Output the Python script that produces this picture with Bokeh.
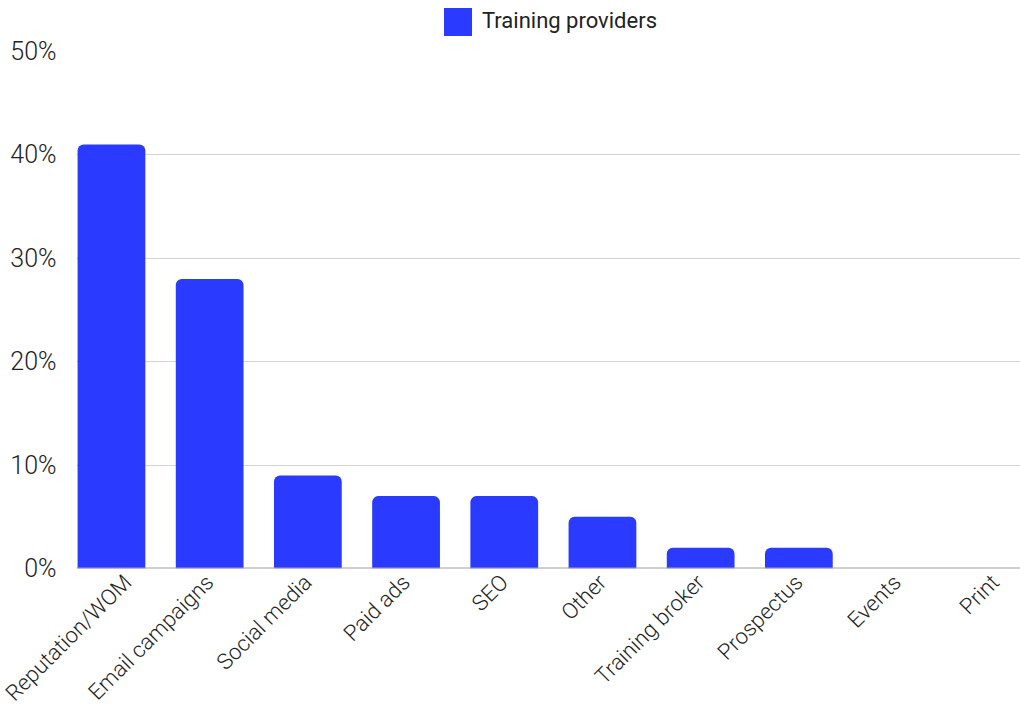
import math
from bokeh.plotting import figure
from bokeh.layouts import column
from bokeh.models import ColumnDataSource, FixedTicker, Span, Range1d, Div
from bokeh.embed import file_html
from bokeh.resources import INLINE

categories = ["Reputation/WOM", "Email campaigns", "Social media", "Paid ads", "SEO",
              "Other", "Training broker", "Prospectus", "Events", "Print"]
values = [41, 28, 9, 7, 7, 5, 2, 2, 0, 0]
y_ticks = [0, 10, 20, 30, 40, 50]
y_tick_labels = ["0%", "10%", "20%", "30%", "40%", "50%"]
series_name = "Training providers"

FONT = "Roboto Light, Roboto"
BAR = "#2a3bff"

idx = list(range(len(categories)))
src = ColumnDataSource(dict(x=idx, top=values))

legend_div = Div(
    width=1020, height=36,
    text=(
        '<div style="position:relative;width:1020px;height:36px;">'
        f'<div style="position:absolute;left:444px;top:8px;width:28px;height:28px;background:{BAR};"></div>'
        f'<div style="position:absolute;left:482px;top:7px;font-family:Roboto;font-weight:400;font-size:22px;'
        f'line-height:28px;color:#222222;white-space:nowrap;">{series_name}</div>'
        '</div>'
    ),
    margin=(0, 0, 0, 0),
)

p = figure(width=1020, height=682, output_backend="svg", toolbar_location=None,
           x_range=Range1d(-0.356, 9.257), y_range=Range1d(0, 50),
           min_border_left=76, min_border_right=0, min_border_top=15, min_border_bottom=150)
p.margin = (0, 0, 0, 0)
p.outline_line_color = None
p.background_fill_color = "white"
p.border_fill_color = "white"

r = p.vbar(x="x", top="top", width=0.69, source=src, fill_color=BAR, line_color=None,
           border_radius=(6, 6, 0, 0))

p.xgrid.grid_line_color = None
p.ygrid.grid_line_color = "#d4d4d4"
p.ygrid.grid_line_width = 1

p.yaxis.ticker = FixedTicker(ticks=y_ticks)
p.yaxis.major_label_overrides = {t: l for t, l in zip(y_ticks, y_tick_labels)}
p.yaxis.axis_line_color = None
p.yaxis.major_tick_line_color = None
p.yaxis.minor_tick_line_color = None
p.yaxis.major_label_text_font = FONT
p.yaxis.major_label_text_font_size = "25px"
p.yaxis.major_label_text_color = "#222222"
p.yaxis.major_label_standoff = 14

p.xaxis.ticker = FixedTicker(ticks=idx)
p.xaxis.major_label_overrides = {i: c for i, c in zip(idx, categories)}
p.xaxis.major_label_orientation = math.pi / 4
p.xaxis.axis_line_color = None
p.xaxis.major_tick_line_color = None
p.xaxis.minor_tick_line_color = None
p.xaxis.major_label_text_font = FONT
p.xaxis.major_label_text_font_size = "22px"
p.xaxis.major_label_text_color = "#222222"
p.xaxis.major_label_standoff = 4

p.add_layout(Span(location=0, dimension="width", line_color="#a0a0a0", line_width=2))

layout = column(legend_div, p, spacing=0, margin=(0, 0, 0, 0))

open("out.html", "w").write(file_html(layout, INLINE))
